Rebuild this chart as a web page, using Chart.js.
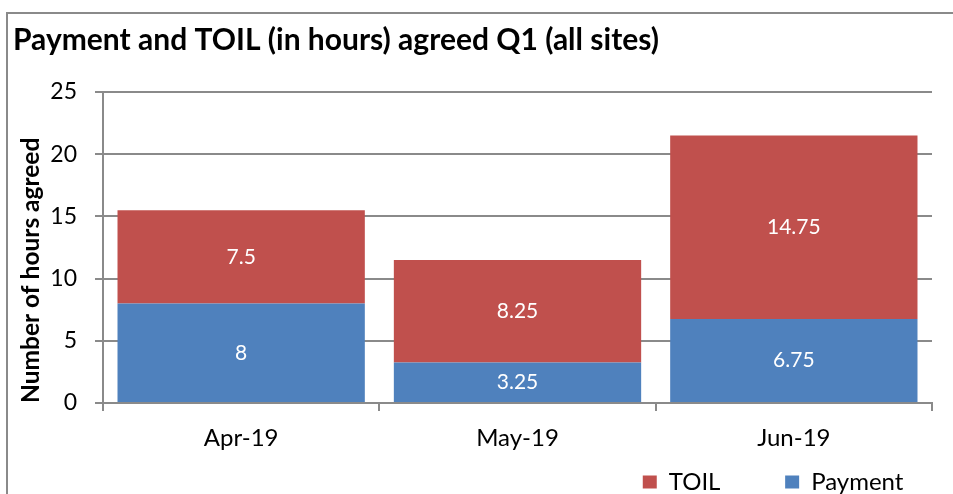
<!DOCTYPE html>
<html>
<head>
<meta charset="utf-8">
<script src="https://cdn.jsdelivr.net/npm/chart.js@4/dist/chart.umd.min.js"></script>
<style>
  html, body { margin: 0; padding: 0; background: #fff; overflow: hidden; }
  #frame {
    position: absolute; left: 6px; top: 12px; width: 960px; height: 500px;
    border-left: 2px solid #8a8a8a; border-top: 2px solid #8a8a8a;
  }
  #chart { position: absolute; left: 0; top: 0; }
</style>
</head>
<body>
<div id="frame"></div>
<canvas id="chart" width="953" height="494"></canvas>
<script>
  // chart data
  const months = ['Apr-19', 'May-19', 'Jun-19'];
  const payment = [8, 3.25, 6.75];
  const toil = [7.5, 8.25, 14.75];
  const yTicks = [0, 5, 10, 15, 20, 25];

  const FONT = 'Lato, "Open Sans", sans-serif';
  const GRID = '#8a8a8a';

  // white value labels centred in each stacked segment
  const segmentLabels = {
    id: 'segmentLabels',
    afterDatasetsDraw(chart) {
      const ctx = chart.ctx;
      ctx.save();
      ctx.fillStyle = '#fff';
      ctx.font = '21px ' + FONT;
      ctx.textAlign = 'center';
      ctx.textBaseline = 'middle';
      chart.data.datasets.forEach((ds, i) => {
        const meta = chart.getDatasetMeta(i);
        meta.data.forEach((bar, j) => {
          const p = bar.getProps(['x', 'y', 'base'], true);
          ctx.fillText(String(ds.data[j]), p.x, (p.y + p.base) / 2);
        });
      });
      ctx.restore();
    }
  };

  new Chart(document.getElementById('chart'), {
    type: 'bar',
    data: {
      labels: months,
      datasets: [
        { label: 'Payment', data: payment, backgroundColor: '#4f81bd' },
        { label: 'TOIL', data: toil, backgroundColor: '#c0504d' }
      ]
    },
    options: {
      responsive: false,
      animation: false,
      devicePixelRatio: 1,
      categoryPercentage: 1,
      barPercentage: 0.895,
      layout: { padding: { left: 13, right: 21, top: 0, bottom: -10 } },
      plugins: {
        title: {
          display: true,
          text: 'Payment and TOIL (in hours) agreed Q1 (all sites)',
          align: 'start',
          color: '#000',
          font: { family: FONT, size: 30, weight: 'bold' },
          padding: { top: 22, bottom: 34 }
        },
        legend: {
          position: 'bottom',
          align: 'end',
          reverse: true,
          labels: {
            color: '#000',
            font: { family: FONT, size: 24 },
            boxWidth: 14,
            boxHeight: 13,
            padding: 4,
            generateLabels(chart) {
              // spacing between entries as in the original legend
              const items = Chart.defaults.plugins.legend.labels.generateLabels(chart);
              items.forEach(it => {
                it.text = it.text === 'TOIL'
                  ? 'TOIL' + '\u00a0'.repeat(10)
                  : it.text + '\u00a0'.repeat(4);
              });
              return items;
            }
          }
        },
        tooltip: { enabled: false }
      },
      scales: {
        x: {
          stacked: true,
          grid: { display: true, drawOnChartArea: false, color: GRID, lineWidth: 2, tickLength: 8, offset: true },
          border: { color: GRID, width: 2 },
          ticks: { color: '#000', font: { family: FONT, size: 24 }, padding: 13 },
          afterFit: (scale) => { scale.height = 63; }
        },
        y: {
          stacked: true,
          min: 0,
          max: 25,
          afterBuildTicks: (scale) => { scale.ticks = yTicks.map(v => ({ value: v })); },
          grid: { color: GRID, lineWidth: 2, tickLength: 8 },
          border: { color: GRID, width: 2 },
          ticks: { color: '#000', font: { family: FONT, size: 23 }, padding: 18 },
          title: {
            display: true,
            text: 'Number of hours agreed',
            align: 'start',
            color: '#000',
            font: { family: FONT, size: 24.5, weight: 'bold' },
            padding: { top: 3, bottom: 0 }
          },
          afterFit: (scale) => { scale.width = 90; }
        }
      }
    },
    plugins: [segmentLabels]
  });
</script>
</body>
</html>
